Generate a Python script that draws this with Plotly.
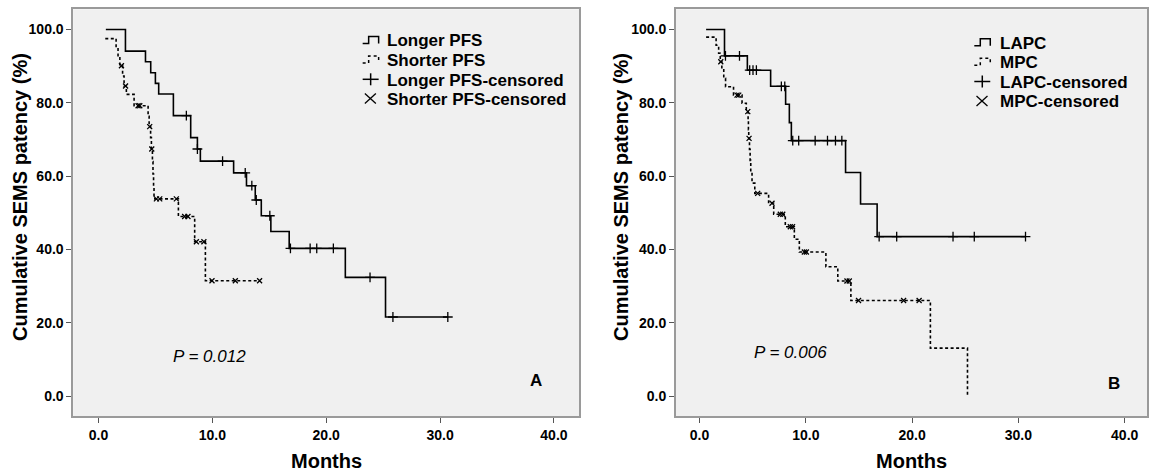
import plotly.graph_objects as go

# ---------------- Panel A data (months, % patency) ----------------
a_long_t = [0.65, 2.37, 4.13, 4.59, 5.0, 5.29, 6.58, 8.1, 8.69, 8.95, 11.87, 13.0, 13.77, 14.3, 15.14, 16.75, 21.68, 25.21, 30.68]
a_long_s = [100, 94.1, 91.2, 88.2, 85.3, 82.4, 76.5, 70.5, 67.4, 64.1, 60.9, 57.4, 53.5, 49.2, 44.9, 40.3, 32.4, 21.6, 21.6]
a_long_cens_t = [7.72, 8.69, 10.9, 12.89, 13.47, 13.86, 15.05, 16.86, 18.59, 19.17, 20.63, 23.85, 25.86, 30.68]
a_long_cens_s = [76.5, 67.4, 64.1, 60.9, 57.4, 53.5, 49.2, 40.3, 40.3, 40.3, 40.3, 32.4, 21.6, 21.6]

a_short_t = [0.6, 1.55, 1.72, 1.88, 2.12, 2.25, 2.45, 3.13, 4.36, 4.45, 4.58, 4.65, 4.74, 4.79, 4.84, 4.88, 7.02, 8.45, 9.39, 14.15]
a_short_s = [97.5, 95.0, 92.5, 90.1, 87.3, 84.6, 82.3, 79.2, 76.3, 73.5, 70.5, 67.4, 64.0, 60.6, 57.2, 53.8, 49.0, 42.1, 31.5, 31.5]
a_short_cens_t = [2.02, 2.38, 3.48, 3.63, 4.5, 4.68, 5.09, 5.38, 6.84, 7.57, 7.86, 8.6, 9.26, 9.97, 12.02, 14.15]
a_short_cens_s = [90.1, 84.6, 79.2, 79.2, 73.5, 67.4, 53.8, 53.8, 53.8, 49.0, 49.0, 42.1, 42.1, 31.5, 31.5, 31.5]

# ---------------- Panel B data ----------------
b_lapc_t = [0.62, 2.35, 4.5, 6.69, 8.1, 8.45, 8.64, 13.74, 15.15, 16.71, 30.67]
b_lapc_s = [100, 92.8, 88.9, 84.5, 79.6, 74.6, 69.7, 61.0, 52.4, 43.5, 43.5]
b_lapc_cens_t = [2.44, 3.76, 4.72, 5.03, 5.35, 7.7, 8.02, 8.77, 9.33, 10.88, 12.04, 12.79, 13.39, 16.9, 18.55, 23.85, 25.85, 30.67]
b_lapc_cens_s = [92.8, 92.8, 88.9, 88.9, 88.9, 84.5, 84.5, 69.7, 69.7, 69.7, 69.7, 69.7, 69.7, 43.5, 43.5, 43.5, 43.5, 43.5]

b_mpc_t = [0.62, 1.56, 1.8, 1.95, 2.1, 2.28, 2.45, 3.2, 4.0, 4.4, 4.57, 4.6, 4.63, 4.7, 4.76, 4.82, 4.94, 5.2, 6.5, 6.98, 8.07, 8.92, 9.39, 11.89, 13.01, 14.24, 21.72, 25.21]
b_mpc_s = [97.9, 95.7, 93.5, 91.2, 89.0, 86.7, 84.4, 82.1, 79.9, 77.6, 75.2, 72.7, 70.3, 67.3, 64.3, 61.2, 58.1, 55.3, 52.6, 49.6, 46.2, 42.8, 39.3, 35.3, 31.4, 26.1, 13.1, 0.0]
b_mpc_cens_t = [2.0, 3.53, 3.69, 4.54, 4.66, 5.47, 6.82, 7.6, 7.83, 8.54, 8.75, 9.86, 10.05, 13.87, 14.09, 14.96, 19.2, 20.66]
b_mpc_cens_s = [91.2, 82.1, 82.1, 77.6, 70.3, 55.3, 52.6, 49.6, 49.6, 46.2, 46.2, 39.3, 39.3, 31.4, 31.4, 26.1, 26.1, 26.1]

a_labels = ["Longer PFS", "Shorter PFS", "Longer PFS-censored", "Shorter PFS-censored"]
b_labels = ["LAPC", "MPC", "LAPC-censored", "MPC-censored"]
a_pvalue = "P = 0.012"
b_pvalue = "P = 0.006"

x_ticks = [0, 10, 20, 30, 40]
y_ticks = [0, 20, 40, 60, 80, 100]

W, H = 1149, 471
FONT = "Liberation Sans, Arial, sans-serif"


def fx(p):
    return p / W


def fy(p):
    return 1 - p / H


fig = go.Figure()


def add_panel(xa, ya, t1, s1, c1t, c1s, t2, s2, c2t, c2s, labels):
    fig.add_trace(go.Scatter(x=t1, y=s1, mode="lines", name=labels[0], showlegend=False,
                             line=dict(shape="hv", color="black", width=1.6), xaxis=xa, yaxis=ya))
    fig.add_trace(go.Scatter(x=t2, y=s2, mode="lines", name=labels[1], showlegend=False,
                             line=dict(shape="hv", color="black", width=1.6, dash="3px,2.5px"),
                             xaxis=xa, yaxis=ya))
    fig.add_trace(go.Scatter(x=c1t, y=c1s, mode="markers", name=labels[2], showlegend=False,
                             marker=dict(symbol="cross-thin", size=7, line=dict(color="black", width=1.3)),
                             xaxis=xa, yaxis=ya))
    fig.add_trace(go.Scatter(x=c2t, y=c2s, mode="markers", name=labels[3], showlegend=False,
                             marker=dict(symbol="x-thin", size=5, line=dict(color="black", width=1.3)),
                             xaxis=xa, yaxis=ya))


add_panel("x", "y", a_long_t, a_long_s, a_long_cens_t, a_long_cens_s,
          a_short_t, a_short_s, a_short_cens_t, a_short_cens_s, a_labels)
add_panel("x2", "y2", b_lapc_t, b_lapc_s, b_lapc_cens_t, b_lapc_cens_s,
          b_mpc_t, b_mpc_s, b_mpc_cens_t, b_mpc_cens_s, b_labels)

tickfont = dict(family=FONT, size=14, color="black", weight="bold")
common_x = dict(tickvals=x_ticks, tickformat=".1f", ticks="outside", ticklen=5, tickwidth=1,
                tickcolor="#555", showgrid=False, zeroline=False, showline=True,
                linecolor="#9a9a9a", linewidth=1.5, mirror=True, tickfont=tickfont)
common_y = dict(tickvals=y_ticks, tickformat=".1f", ticks="outside", ticklen=5, tickwidth=1,
                tickcolor="#555", showgrid=False, zeroline=False, showline=True,
                linecolor="#9a9a9a", linewidth=1.5, mirror=True, tickfont=tickfont,
                range=[-5.4, 105.5])

ydom = [fy(416), fy(9.3)]
fig.update_layout(
    width=W, height=H,
    margin=dict(l=0, r=0, t=0, b=0),
    paper_bgcolor="white", plot_bgcolor="#f0f0f0",
    showlegend=False,
    xaxis=dict(domain=[fx(73.3), fx(580)], range=[-2.22, 42.2], anchor="y", **common_x),
    yaxis=dict(domain=ydom, anchor="x", **common_y),
    xaxis2=dict(domain=[fx(677), 1.0], range=[-2.23, 42.1], anchor="y2", **common_x),
    yaxis2=dict(domain=ydom, anchor="x2", **common_y),
)

ann = []
shapes = []
titlefont = dict(family=FONT, size=20, color="black", weight="bold")
for cx in (20, 622):
    ann.append(dict(text="Cumulative SEMS patency (%)", x=fx(cx), y=fy(197), xref="paper", yref="paper",
                    textangle=-90, showarrow=False, font=titlefont, xanchor="center", yanchor="middle"))
for cx in (326.7, 913.5):
    ann.append(dict(text="Months", x=fx(cx), y=fy(460.5), xref="paper", yref="paper",
                    showarrow=False, font=titlefont, xanchor="center", yanchor="middle"))

pfont = dict(family=FONT, size=17, color="black", style="italic")
ann.append(dict(text=a_pvalue, x=fx(171.7), y=fy(356), xref="paper", yref="paper", showarrow=False,
                font=pfont, xanchor="left", yanchor="middle"))
ann.append(dict(text=b_pvalue, x=fx(753.3), y=fy(352), xref="paper", yref="paper", showarrow=False,
                font=pfont, xanchor="left", yanchor="middle"))
lfont = dict(family=FONT, size=17, color="black", weight="bold")
ann.append(dict(text="A", x=fx(536.7), y=fy(380.5), xref="paper", yref="paper", showarrow=False,
                font=lfont, xanchor="center", yanchor="middle"))
ann.append(dict(text="B", x=fx(1116), y=fy(383.5), xref="paper", yref="paper", showarrow=False,
                font=lfont, xanchor="center", yanchor="middle"))


def legend(gx, tx, rows, labels):
    for i, (cy, lab) in enumerate(zip(rows, labels)):
        ann.append(dict(text=lab, x=fx(tx), y=fy(cy + 1), xref="paper", yref="paper", showarrow=False,
                        font=lfont, xanchor="left", yanchor="middle"))
        if i < 2:
            b, t = cy + 3.5, cy - 3.5
            path = "M {} {} L {} {} L {} {} L {} {} L {} {}".format(
                fx(gx), fy(b), fx(gx + 6), fy(b), fx(gx + 6), fy(t), fx(gx + 16), fy(t), fx(gx + 16), fy(b))
            shapes.append(dict(type="path", path=path, xref="paper", yref="paper",
                               line=dict(color="black", width=1.5, dash="solid" if i == 0 else "dot")))
        elif i == 2:
            c = gx + 8
            shapes.append(dict(type="line", x0=fx(c - 8), x1=fx(c + 8), y0=fy(cy), y1=fy(cy),
                               xref="paper", yref="paper", line=dict(color="black", width=1.5)))
            shapes.append(dict(type="line", x0=fx(c), x1=fx(c), y0=fy(cy - 6), y1=fy(cy + 6),
                               xref="paper", yref="paper", line=dict(color="black", width=1.5)))
        else:
            c = gx + 7.7
            shapes.append(dict(type="line", x0=fx(c - 5.5), x1=fx(c + 5.5), y0=fy(cy - 5), y1=fy(cy + 5),
                               xref="paper", yref="paper", line=dict(color="black", width=1.3)))
            shapes.append(dict(type="line", x0=fx(c - 5.5), x1=fx(c + 5.5), y0=fy(cy + 5), y1=fy(cy - 5),
                               xref="paper", yref="paper", line=dict(color="black", width=1.3)))


legend(363.3, 386, [40, 59.5, 79.3, 98.5], a_labels)
legend(976, 999.3, [42.2, 61.8, 81.5, 101], b_labels)

fig.update_layout(annotations=ann, shapes=shapes)
fig.write_html("out.html")
